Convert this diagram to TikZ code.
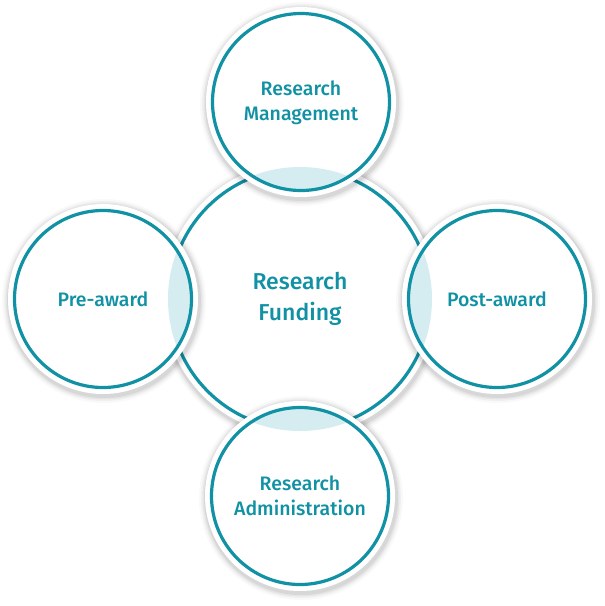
\documentclass[tikz,border=0pt]{standalone}
\usepackage{fontspec}
\setmainfont{Fira Sans}[UprightFont=* Medium]
\usetikzlibrary{calc}
\definecolor{tealc}{HTML}{1191A4}
\definecolor{lensc}{HTML}{D5EDF1}
\tikzset{
  lbl/.style={text=tealc, align=center, font=\fontsize{19.5}{25}\selectfont},
  biglbl/.style={text=tealc, align=center, font=\fontsize{23}{30.5}\selectfont},
  ring/.style={draw=tealc, line width=3.2pt},
}
\newcommand{\shadowdisk}[2]{%
  \foreach \k/\o in {7/0.025,5/0.035,3.5/0.045,2/0.06}{%
    \fill[black,opacity=\o] ($(#1)+(1,2)$) circle ({#2+\k});}%
}
\begin{document}
\begin{tikzpicture}[x=1pt,y=-1pt]
\useasboundingbox (0,0) rectangle (605,606);
\fill[white] (0,0) rectangle (605,606);
\coordinate (c) at (300,299);
\coordinate (t) at (301,102);
\coordinate (l) at (103,299);
\coordinate (r) at (497,299);
\coordinate (b) at (300,496);
% central circle
\shadowdisk{c}{137}
\fill[white] (c) circle (137);
\draw[ring] (c) circle (130.5);
% outer circles
\foreach \p in {t,l,r,b}{
  \shadowdisk{\p}{95}
  \fill[white] (\p) circle (95);
  \begin{scope}
    \clip (\p) circle (88.5);
    \fill[lensc] (c) circle (132);
  \end{scope}
  \draw[ring] (\p) circle (88.5);
}
\node[biglbl] (nc) at (c) {Research\\Funding};
\node[lbl] (nt) at ($(t)+(0,1)$) {Research\\Management};
\node[lbl] (nl) at (l) {Pre-award};
\node[lbl] (nr) at (r) {Post-award};
\node[lbl] (nb) at (b) {Research\\Administration};
\end{tikzpicture}
\end{document}
